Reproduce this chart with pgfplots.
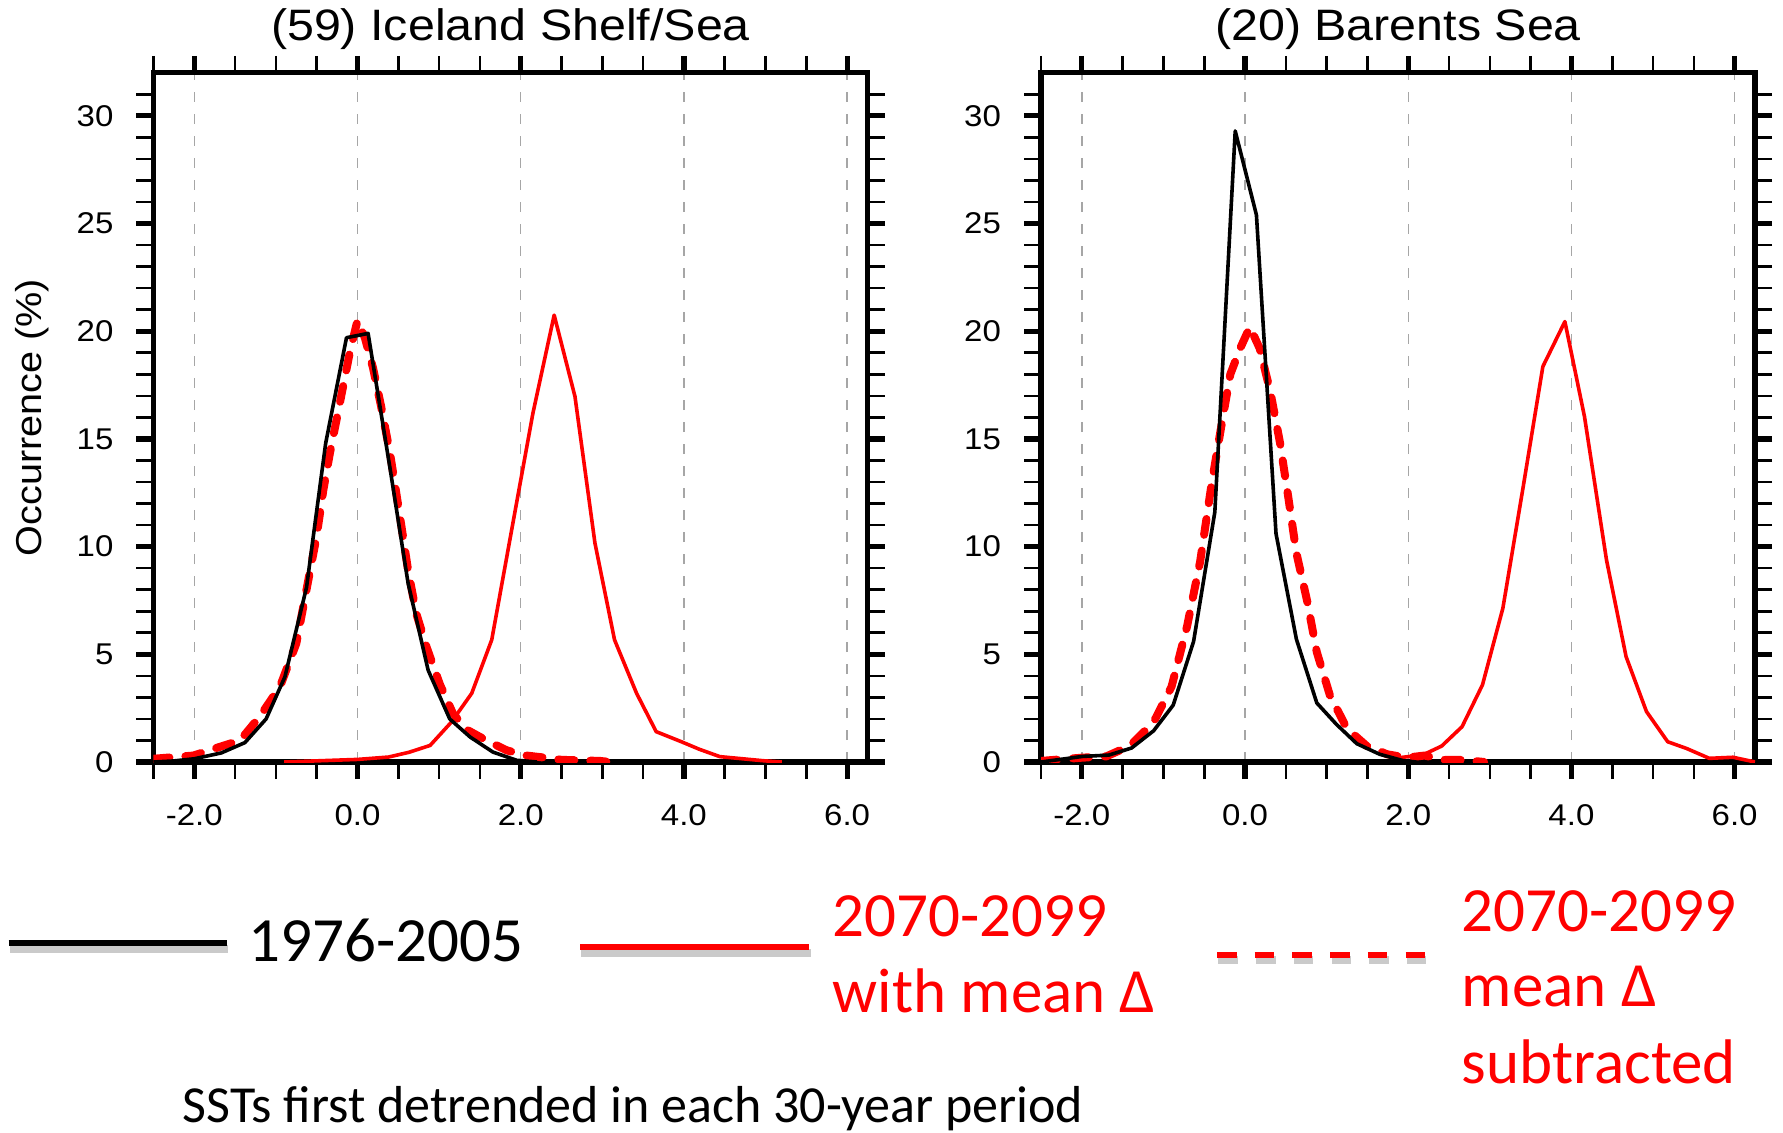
\documentclass[border=0pt]{standalone}
\usepackage{fontspec}
\setmainfont{Liberation Sans}[FakeStretch=1.1]
\newfontfamily\carlito{Carlito}
\usepackage{pgfplots}
\usepackage{pgfplotstable}
\pgfplotsset{compat=1.18}
\definecolor{pured}{RGB}{255,0,0}

\pgfplotstableread{
x y
-2.5 0.0
-2.25 0.05
-2.0 0.15
-1.67 0.42
-1.38 0.9
-1.12 2.0
-0.89 3.95
-0.625 8.1
-0.39 14.8
-0.135 19.7
0.13 19.9
0.40 13.6
0.62 8.3
0.866 4.26
1.13 2.0
1.38 1.16
1.66 0.46
1.95 0.08
2.2 0.0
}\Lblack

\pgfplotstableread{
x y
-0.9 0.0
0.0 0.12
0.38 0.23
0.63 0.45
0.89 0.77
1.15 1.85
1.40 3.19
1.645 5.67
1.90 11.0
2.15 16.2
2.41 20.75
2.665 16.97
2.91 10.16
3.15 5.67
3.42 3.19
3.66 1.41
3.97 0.94
4.19 0.59
4.44 0.25
4.97 0.06
5.2 0.0
}\Lred

\pgfplotstableread{
x y
-2.5 0.15
-2.01 0.3
-1.69 0.7
-1.44 1.0
-1.2 2.1
-0.95 3.5
-0.75 5.5
-0.625 8.0
-0.5 10.5
-0.42 12.6
-0.34 14.3
-0.22 16.6
-0.09 19.1
0.0 20.5
0.09 19.7
0.19 18.3
0.29 16.5
0.40 14.3
0.52 11.4
0.62 8.9
0.72 6.9
0.85 5.3
1.01 3.6
1.17 2.25
1.34 1.5
1.58 1.0
1.83 0.54
2.07 0.3
2.3 0.2
2.5 0.1
2.97 0.05
3.1 0.0
}\Ldash

\pgfplotstableread{
x y
-2.5 0.0
-1.99 0.26
-1.67 0.32
-1.39 0.65
-1.12 1.45
-0.88 2.64
-0.63 5.6
-0.37 11.6
-0.12 29.3
0.14 25.4
0.38 10.6
0.63 5.7
0.88 2.74
1.12 1.75
1.37 0.85
1.65 0.36
1.94 0.06
2.1 0.0
}\Rblack

\pgfplotstableread{
x y
1.89 0.2
2.18 0.33
2.41 0.74
2.66 1.64
2.91 3.58
3.16 7.14
3.41 12.8
3.65 18.36
3.92 20.45
4.16 16.04
4.43 9.38
4.67 4.89
4.92 2.34
5.18 0.94
5.41 0.63
5.69 0.17
5.98 0.22
6.25 0.0
}\Rred

\pgfplotstableread{
x y
-2.5 0.05
-2.0 0.2
-1.7 0.26
-1.41 0.75
-1.12 1.85
-0.9 3.5
-0.71 6.3
-0.55 9.3
-0.41 12.9
-0.29 15.6
-0.18 18.0
-0.06 19.2
0.06 20.2
0.18 19.2
0.31 17.2
0.43 14.8
0.53 12.3
0.63 9.7
0.76 7.5
0.88 5.1
1.04 3.1
1.25 1.55
1.49 0.75
1.74 0.36
1.98 0.2
2.2 0.3
2.45 0.1
2.67 0.1
2.93 0.0
}\Rdash

\pgfplotsset{panel/.style={
  width=357pt, height=344.6pt, scale only axis,
  xmin=-2.5, xmax=6.25, ymin=0, ymax=32,
  xtick={-2,0,2,4,6},
  minor xtick={-2.5,-1.5,-1,-0.5,0.5,1,1.5,2.5,3,3.5,4.5,5,5.5},
  ytick={0,5,...,30},
  minor ytick={1,2,3,4,6,7,8,9,11,12,13,14,16,17,18,19,21,22,23,24,26,27,28,29,31},
  tick align=outside, tick pos=both,
  xticklabel pos=lower, yticklabel pos=left,
  major tick length=8.5pt, minor tick length=8.5pt,
  major tick style={line width=2.6pt, black},
  minor tick style={line width=1.3pt, black},
  axis line style={line width=2.6pt},
  xmajorgrids=true, ymajorgrids=false,
  major grid style={black!35, line width=0.7pt, dash pattern=on 5pt off 6pt},
  /pgf/number format/assume math mode=true,
  xticklabel style={/pgf/number format/fixed, /pgf/number format/fixed zerofill, /pgf/number format/precision=1, font=\fontsize{15}{18}\selectfont, yshift=-9pt},
  yticklabel style={font=\fontsize{15}{18}\selectfont, xshift=-8pt},
  clip=true,
}}

\begin{document}
\begin{tikzpicture}[x=1pt,y=1pt]
\path[use as bounding box] (0,0) rectangle (891.5,566);

\begin{axis}[panel, at={(76.75pt,185pt)}, anchor=south west,
  ylabel={Occurrence (\%)},
  ylabel style={at={(axis description cs:-0.17,0.5)}, anchor=center, font=\fontsize{18}{21}\selectfont}]
\addplot[pured, line width=1.8pt, line join=round, mark=none] table {\Lred};
\addplot[pured, line width=4pt, dash pattern=on 8pt off 8pt, line cap=round, line join=round, mark=none] table {\Ldash};
\addplot[black, line width=1.8pt, line join=round, mark=none] table {\Lblack};
\end{axis}

\begin{axis}[panel, at={(520.5pt,185pt)}, anchor=south west]
\addplot[pured, line width=1.8pt, line join=round, mark=none] table {\Rred};
\addplot[pured, line width=4pt, dash pattern=on 8pt off 8pt, line cap=round, line join=round, mark=none] table {\Rdash};
\addplot[black, line width=1.8pt, line join=round, mark=none] table {\Rblack};
\end{axis}

% titles
\node[anchor=base, inner sep=0pt, font=\fontsize{22}{26}\selectfont] at (255.25,545.5) {(59) Iceland Shelf/Sea};
\node[anchor=base, inner sep=0pt, font=\fontsize{22}{26}\selectfont] at (699,545.5) {(20) Barents Sea};

% legend
\draw[black!35, opacity=0.6, line width=4pt] (5,91.6) -- (114,91.6);
\draw[black, line width=3pt] (4.3,94.35) -- (113.35,94.35);
\node[anchor=base west, inner sep=0pt, font=\carlito\fontsize{31.5}{38}\selectfont] at (124,85.15) {1976-2005};

\draw[black!35, opacity=0.6, line width=4pt] (290.7,89.6) -- (405.4,89.6);
\draw[pured, line width=3pt] (290,92.35) -- (404.7,92.35);
\node[anchor=base west, inner sep=0pt, text=pured, font=\carlito\fontsize{31.5}{38}\selectfont] at (416.2,98) {2070-2099};
\node[anchor=base west, inner sep=0pt, text=pured, font=\carlito\fontsize{31.5}{38}\selectfont] at (416.2,59.65) {with mean Δ};

\draw[black!35, opacity=0.6, line width=4pt, dash pattern=on 9.75pt off 9.1pt] (609.2,85.8) -- (713.3,85.8);
\draw[pured, line width=3pt, dash pattern=on 9.75pt off 9.1pt] (608.5,88.5) -- (712.65,88.5);
\node[anchor=base west, inner sep=0pt, text=pured, font=\carlito\fontsize{31.5}{38}\selectfont] at (730.7,100.5) {2070-2099};
\node[anchor=base west, inner sep=0pt, text=pured, font=\carlito\fontsize{31.5}{38}\selectfont] at (730.7,62.65) {mean Δ};
\node[anchor=base west, inner sep=0pt, text=pured, font=\carlito\fontsize{31.5}{38}\selectfont] at (730.7,24.35) {subtracted};

\node[anchor=base west, inner sep=0pt, font=\carlito\fontsize{26}{31}\selectfont] at (91.25,4.8) {SSTs first detrended in each 30-year period};
\end{tikzpicture}
\end{document}
